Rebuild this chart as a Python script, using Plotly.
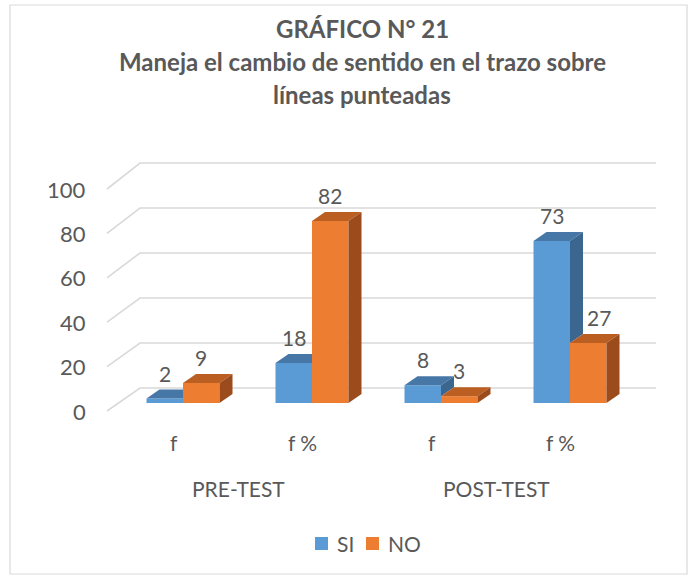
import plotly.graph_objects as go

# ---------------- data ----------------
categories = ["f", "f %", "f", "f %"]
groups = ["PRE-TEST", "POST-TEST"]
group_members = [[0, 1], [2, 3]]
series_names = ["SI", "NO"]
si_values = [2, 18, 8, 73]
no_values = [9, 82, 3, 27]
y_ticks = [0, 20, 40, 60, 80, 100]
title_lines = ["GRÁFICO N° 21",
               "Maneja el cambio de sentido en el trazo sobre",
               "líneas punteadas"]

# ---------------- geometry / style ----------------
W, H = 698, 577
CAT_PX = 129.0      # pixels per category
UNIT_PX = 2.22      # pixels per value unit
X0_PX = 183.0       # pixel x of first category centre (bar plane)
Y0_PX = 403.0       # pixel y of value 0 (bar front plane)

BAR_W = 36.5 / CAT_PX
DEPTH_X = 13.0 / CAT_PX
DEPTH_Y = 9.0 / UNIT_PX
FRONT_X = -11.5 / CAT_PX
FRONT_Y = -8.0 / UNIT_PX
BACK_X = 21.5 / CAT_PX
BACK_Y = 15.0 / UNIT_PX
BACK_SCALE = 2.25 / 2.22

x_range = [(0 - X0_PX) / CAT_PX, (W - X0_PX) / CAT_PX]
y_range = [(Y0_PX - H) / UNIT_PX, Y0_PX / UNIT_PX]

FONT = "Lato"
TXT = "#595959"
GRID = "#D9D9D9"
SI_FRONT, SI_TOP, SI_SIDE = "#5B9BD5", "#4677A6", "#3A6690"
NO_FRONT, NO_TOP, NO_SIDE = "#ED7D31", "#BB5E22", "#9C4C1C"
LABEL_NUDGE = {("NO", 3): 11}

n = len(categories)
idx = list(range(n))
x_left = -0.5
x_right = n - 0.5

fig = go.Figure()

# front faces (bars)
fig.add_trace(go.Bar(x=idx, y=si_values, width=BAR_W, offset=-BAR_W,
                     marker=dict(color=SI_FRONT, line=dict(width=0)),
                     name=series_names[0], showlegend=False, hoverinfo="skip"))
fig.add_trace(go.Bar(x=idx, y=no_values, width=BAR_W, offset=0,
                     marker=dict(color=NO_FRONT, line=dict(width=0)),
                     name=series_names[1], showlegend=False, hoverinfo="skip"))


def poly(xs, ys, color):
    fig.add_trace(go.Scatter(x=xs + [xs[0]], y=ys + [ys[0]], mode="lines",
                             fill="toself", fillcolor=color,
                             line=dict(width=0, color=color),
                             showlegend=False, hoverinfo="skip"))


dx, dy, w = DEPTH_X, DEPTH_Y, BAR_W
for i in idx:
    c = i
    a = si_values[i]
    b = no_values[i]
    # SI top face (clipped where the NO bar hides it)
    if b < a:
        poly([c - w, c, c + dx, c - w + dx], [a, a, a + dy, a + dy], SI_TOP)
    elif b >= a + dy:
        poly([c - w, c, c, c - w + dx], [a, a, a + dy, a + dy], SI_TOP)
    else:
        poly([c - w, c, c, c + (a + dy - b) / dy * dx, c - w + dx],
             [a, a, b, a + dy, a + dy], SI_TOP)
    # SI side face, only the part visible above the NO bar
    if a > b:
        poly([c, c, c + dx, c + dx], [b, a, a + dy, b + dy], SI_SIDE)
    # NO top and side
    poly([c, c + w, c + w + dx, c + dx], [b, b, b + dy, b + dy], NO_TOP)
    poly([c + w, c + w, c + w + dx, c + w + dx], [0, b, b + dy, dy], NO_SIDE)

shapes = []
annotations = []

# gridlines (side wall + back wall)
for v in y_ticks:
    xf, yf = x_left + FRONT_X, v + FRONT_Y
    xb, yb = x_left + BACK_X, v * BACK_SCALE + BACK_Y
    xe = x_right + BACK_X
    shapes.append(dict(type="path", layer="below",
                       path=f"M {xf},{yf} L {xb},{yb} L {xe},{yb}",
                       line=dict(color=GRID, width=1.6)))
    annotations.append(dict(x=xf, y=yf, text=str(v), showarrow=False,
                            xanchor="right", yanchor="middle", xshift=-19,
                            font=dict(family=FONT, size=22, color=TXT)))

# data labels
for name, vals, sign in (("SI", si_values, -1), ("NO", no_values, 1)):
    for i, v in enumerate(vals):
        annotations.append(dict(x=i + sign * BAR_W / 2, y=v + DEPTH_Y, text=str(v),
                                showarrow=False, yanchor="middle", yshift=16.5,
                                xshift=LABEL_NUDGE.get((name, i), 0),
                                font=dict(family=FONT, size=21, color=TXT)))

# category labels
for i, cat in enumerate(categories):
    annotations.append(dict(x=i + FRONT_X, y=FRONT_Y, text=cat, showarrow=False,
                            yanchor="middle", yshift=-31, xshift=2,
                            font=dict(family=FONT, size=21, color=TXT)))
for g, members in zip(groups, group_members):
    annotations.append(dict(x=sum(members) / len(members) + FRONT_X, y=FRONT_Y,
                            text=g, showarrow=False, yanchor="middle", yshift=-77,
                            xshift=2, font=dict(family=FONT, size=21, color=TXT)))

# title lines
for k, line in enumerate(title_lines):
    annotations.append(dict(xref="paper", yref="paper", x=362 / W,
                            y=1 - (28 + 33.5 * k) / H, text=f"<b>{line}</b>",
                            showarrow=False, xanchor="center", yanchor="middle",
                            font=dict(family=FONT, size=24, color=TXT)))

# legend (manual)
legend_items = [(series_names[0], SI_FRONT, 315), (series_names[1], NO_FRONT, 366)]
for name, col, px in legend_items:
    shapes.append(dict(type="rect", xref="paper", yref="paper",
                       x0=px / W, x1=(px + 13) / W,
                       y0=1 - 550 / H, y1=1 - 537 / H,
                       fillcolor=col, line=dict(width=0)))
    annotations.append(dict(xref="paper", yref="paper", x=(px + 20) / W,
                            y=1 - 543.5 / H, text=name, showarrow=False,
                            xanchor="left", yanchor="middle",
                            font=dict(family=FONT, size=21, color=TXT)))

# chart border
shapes.append(dict(type="rect", xref="paper", yref="paper",
                   x0=10 / W, x1=687 / W, y0=1 - 574 / H, y1=1 - 5 / H,
                   line=dict(color=GRID, width=1.2), fillcolor="rgba(0,0,0,0)"))

fig.update_layout(
    width=W, height=H,
    margin=dict(l=0, r=0, t=0, b=0),
    paper_bgcolor="white", plot_bgcolor="white",
    barmode="overlay",
    xaxis=dict(range=x_range, visible=False, fixedrange=True),
    yaxis=dict(range=y_range, visible=False, fixedrange=True),
    shapes=shapes, annotations=annotations,
    showlegend=False,
)

fig.write_html("out.html",
               config={"displayModeBar": False, "staticPlot": True},
               post_script="document.body.style.margin='0';"
                           "document.body.style.overflow='hidden';")
